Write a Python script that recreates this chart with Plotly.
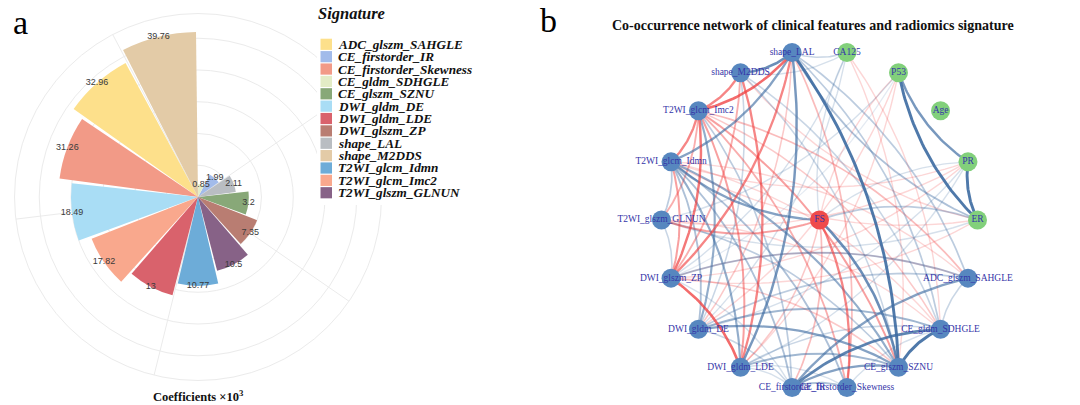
import numpy as np
import plotly.graph_objects as go

W, H = 1080, 405

# ---------------- Panel a data ----------------
signature = ["ADC_glszm_SAHGLE", "CE_firstorder_IR", "CE_firstorder_Skewness", "CE_gldm_SDHGLE",
             "CE_glszm_SZNU", "DWI_gldm_DE", "DWI_gldm_LDE", "DWI_glszm_ZP", "shape_LAL",
             "shape_M2DDS", "T2WI_glcm_Idmn", "T2WI_glcm_Imc2", "T2WI_glszm_GLNUN"]
coefficients = [32.96, 1.99, 31.26, 0.85, 3.2, 18.49, 13, 7.35, 2.11, 39.76, 10.77, 17.82, 10.5]
sig_colors = ["#FDE08B", "#A2BBEA", "#F29A87", "#E3ECC6", "#88A878", "#A9DDF5", "#D9626C",
              "#B97D72", "#B9BDC2", "#E3CBA7", "#6DACD8", "#F9A88D", "#876287"]
angular_breaks = [2.5, 5, 7.5, 10, 12.5]
radial_breaks = [2.5, 5, 7.5, 10, 12.5]

# ---------------- Panel b data ----------------
node_labels = ["ER", "PR", "Age", "P53", "CA125", "shape_LAL", "shape_M2DDS", "T2WI_glcm_Imc2",
               "T2WI_glcm_Idmn", "T2WI_glszm_GLNUN", "DWI_glszm_ZP", "DWI_gldm_DE", "DWI_gldm_LDE",
               "CE_firstorder_IR", "CE_firstorder_Skewness", "CE_glszm_SZNU", "CE_gldm_SDHGLE",
               "ADC_glszm_SAHGLE"]
center_node = "FS"
clinical_nodes = ["ER", "PR", "Age", "P53", "CA125"]

edges = [
    # positive (red)
    ("shape_LAL", "T2WI_glcm_Imc2", 0.7),
    ("shape_M2DDS", "T2WI_glcm_Imc2", 0.6),
    ("T2WI_glcm_Imc2", "T2WI_glcm_Idmn", 0.6),
    ("T2WI_glcm_Imc2", "DWI_glszm_ZP", 0.65),
    ("DWI_glszm_ZP", "DWI_gldm_LDE", 0.7),
    ("shape_LAL", "DWI_glszm_ZP", 0.6),
    ("shape_M2DDS", "DWI_gldm_LDE", 0.6),
    ("T2WI_glcm_Imc2", "CE_glszm_SZNU", 0.5),
    ("FS", "CE_firstorder_Skewness", 0.6),
    ("FS", "T2WI_glszm_GLNUN", 0.5),
    ("T2WI_glcm_Idmn", "DWI_glszm_ZP", 0.5),
    ("shape_M2DDS", "DWI_glszm_ZP", 0.45),
    ("T2WI_glcm_Imc2", "DWI_gldm_LDE", 0.5),
    ("T2WI_glcm_Imc2", "CE_firstorder_Skewness", 0.45),
    ("T2WI_glcm_Imc2", "CE_gldm_SDHGLE", 0.35),
    ("T2WI_glcm_Imc2", "ADC_glszm_SAHGLE", 0.4),
    ("T2WI_glcm_Idmn", "ADC_glszm_SAHGLE", 0.3),
    ("T2WI_glcm_Idmn", "CE_gldm_SDHGLE", 0.3),
    ("DWI_glszm_ZP", "ADC_glszm_SAHGLE", 0.3),
    ("DWI_glszm_ZP", "ER", 0.3),
    ("DWI_gldm_LDE", "FS", 0.35),
    ("FS", "CE_firstorder_IR", 0.4),
    ("CA125", "CE_gldm_SDHGLE", 0.3),
    ("CA125", "CE_glszm_SZNU", 0.3),
    ("P53", "DWI_gldm_DE", 0.3),
    ("P53", "FS", 0.3),
    ("P53", "DWI_gldm_LDE", 0.3),
    ("PR", "T2WI_glcm_Idmn", 0.3),
    ("PR", "T2WI_glszm_GLNUN", 0.3),
    ("PR", "DWI_glszm_ZP", 0.3),
    ("ER", "T2WI_glcm_Idmn", 0.3),
    ("T2WI_glszm_GLNUN", "CE_gldm_SDHGLE", 0.3),
    ("shape_LAL", "CE_firstorder_Skewness", 0.4),
    ("shape_M2DDS", "ER", 0.3),
    ("T2WI_glszm_GLNUN", "T2WI_glcm_Imc2", 0.45),
    ("DWI_gldm_DE", "shape_LAL", 0.35),
    ("DWI_glszm_ZP", "CE_glszm_SZNU", 0.35),
    # negative (blue)
    ("shape_LAL", "shape_M2DDS", -0.7),
    ("CE_glszm_SZNU", "shape_LAL", -0.8),
    ("P53", "ER", -0.8),
    ("PR", "ER", -0.8),
    ("P53", "PR", -0.65),
    ("CE_glszm_SZNU", "CE_gldm_SDHGLE", -0.8),
    ("CE_firstorder_IR", "CE_gldm_SDHGLE", -0.75),
    ("CE_firstorder_IR", "ADC_glszm_SAHGLE", -0.6),
    ("CE_firstorder_IR", "CE_glszm_SZNU", -0.6),
    ("FS", "CE_glszm_SZNU", -0.7),
    ("T2WI_glcm_Idmn", "FS", -0.6),
    ("shape_LAL", "DWI_gldm_LDE", -0.65),
    ("T2WI_glcm_Idmn", "shape_LAL", -0.6),
    ("DWI_gldm_DE", "CE_glszm_SZNU", -0.6),
    ("DWI_gldm_DE", "CE_gldm_SDHGLE", -0.5),
    ("T2WI_glcm_Idmn", "DWI_gldm_LDE", -0.55),
    ("T2WI_glcm_Imc2", "DWI_gldm_DE", -0.55),
    ("T2WI_glcm_Idmn", "DWI_gldm_DE", -0.45),
    ("T2WI_glcm_Idmn", "CE_glszm_SZNU", -0.55),
    ("T2WI_glcm_Idmn", "CE_firstorder_Skewness", -0.45),
    ("T2WI_glcm_Idmn", "CE_firstorder_IR", -0.45),
    ("T2WI_glcm_Imc2", "CE_firstorder_IR", -0.4),
    ("DWI_gldm_LDE", "CE_glszm_SZNU", -0.5),
    ("T2WI_glszm_GLNUN", "CE_glszm_SZNU", -0.4),
    ("shape_LAL", "ER", -0.45),
    ("shape_LAL", "ADC_glszm_SAHGLE", -0.4),
    ("shape_LAL", "CE_gldm_SDHGLE", -0.4),
    ("shape_M2DDS", "CE_gldm_SDHGLE", -0.35),
    ("shape_M2DDS", "CE_glszm_SZNU", -0.35),
    ("shape_M2DDS", "DWI_gldm_DE", -0.35),
    ("CA125", "shape_LAL", -0.35),
    ("CA125", "DWI_glszm_ZP", -0.3),
    ("CA125", "DWI_gldm_DE", -0.3),
    ("CA125", "shape_M2DDS", -0.3),
    ("CA125", "FS", -0.3),
    ("P53", "T2WI_glszm_GLNUN", -0.3),
    ("P53", "DWI_glszm_ZP", -0.25),
    ("ER", "FS", -0.4),
    ("ER", "T2WI_glszm_GLNUN", -0.3),
    ("ADC_glszm_SAHGLE", "CE_gldm_SDHGLE", -0.35),
    ("ADC_glszm_SAHGLE", "DWI_glszm_ZP", -0.45),
    ("ADC_glszm_SAHGLE", "DWI_gldm_DE", -0.4),
    ("CE_firstorder_Skewness", "CE_gldm_SDHGLE", -0.3),
    ("CE_firstorder_Skewness", "DWI_gldm_LDE", -0.3),
    ("CE_firstorder_Skewness", "CE_firstorder_IR", -0.45),
    ("DWI_gldm_LDE", "CE_firstorder_IR", -0.3),
    ("DWI_gldm_DE", "CE_firstorder_IR", -0.35),
    ("DWI_glszm_ZP", "CE_firstorder_IR", -0.3),
    ("DWI_gldm_LDE", "CE_gldm_SDHGLE", -0.35),
    ("T2WI_glszm_GLNUN", "T2WI_glcm_Idmn", -0.4),
    ("PR", "DWI_gldm_DE", -0.3),
    ("PR", "DWI_gldm_LDE", -0.3),
    ("PR", "FS", -0.3),
    ("T2WI_glszm_GLNUN", "DWI_glszm_ZP", -0.35),
]
edge_from = [e[0] for e in edges]
edge_to = [e[1] for e in edges]
edge_corr = [e[2] for e in edges]

fig = go.Figure()

# ---------------- Panel a: polar bars ----------------
n = len(coefficients)
step = 360.0 / n
order = np.argsort(coefficients)
rank = np.empty(n, dtype=int)
rank[order] = np.arange(1, n + 1)
thetas = (rank - 0.5) * step
labels = [f"{v:g}" for v in coefficients]

fig.add_trace(go.Barpolar(
    r=rank, theta=thetas, width=[step * 0.95] * n,
    marker=dict(color=sig_colors, line=dict(width=0)),
    subplot="polar", showlegend=False, text=signature, hoverinfo="text"))
fig.add_trace(go.Scatterpolar(
    r=rank, theta=thetas, mode="text", text=labels,
    textfont=dict(family="Liberation Sans, Arial", size=9, color="#3a3a3a"),
    subplot="polar", showlegend=False, hoverinfo="skip"))

ang_ticks = [(b - 0.5) * step for b in angular_breaks]

cx, cy, R = 198, 197, 183.5
fig.update_layout(polar=dict(
    domain=dict(x=[(cx - R) / W, (cx + R) / W], y=[1 - (cy + R) / H, 1 - (cy - R) / H]),
    bgcolor="white",
    radialaxis=dict(range=[0, 14.45], tickvals=radial_breaks, showticklabels=False, ticks="",
                    showline=False, gridcolor="#EBEBEB", gridwidth=1),
    angularaxis=dict(rotation=90, direction="clockwise", tickvals=ang_ticks, showticklabels=False,
                     ticks="", showline=True, linecolor="#EBEBEB", linewidth=1,
                     gridcolor="#EBEBEB", gridwidth=1),
))

# ---------------- Panel b: network ----------------
pos = {}
for i, name in enumerate(node_labels):
    a = np.deg2rad(i * 360.0 / len(node_labels))
    pos[name] = (np.cos(a), np.sin(a))
pos[center_node] = (0.0, 0.0)
order_idx = {name: i for i, name in enumerate(node_labels)}
order_idx[center_node] = -1

def curve(p0, p1, k=0.16, m=40):
    (x0, y0), (x1, y1) = p0, p1
    dx, dy = x1 - x0, y1 - y0
    cxp = (x0 + x1) / 2 + k * dy
    cyp = (y0 + y1) / 2 - k * dx
    t = np.linspace(0, 1, m)
    xs = (1 - t) ** 2 * x0 + 2 * (1 - t) * t * cxp + t ** 2 * x1
    ys = (1 - t) ** 2 * y0 + 2 * (1 - t) * t * cyp + t ** 2 * y1
    return xs, ys

edge_order = np.argsort([abs(c) for c in edge_corr], kind="stable")
for j in edge_order:
    a, b, c = edge_from[j], edge_to[j], edge_corr[j]
    src, dst = (a, b) if order_idx[a] > order_idx[b] else (b, a)
    xs, ys = curve(pos[src], pos[dst])
    alpha = float(np.clip((abs(c) - 0.15) * 1.4, 0.12, 0.95))
    col = f"rgba(240,62,62,{alpha:.2f})" if c > 0 else f"rgba(62,108,162,{alpha:.2f})"
    fig.add_trace(go.Scatter(x=xs, y=ys, mode="lines", line=dict(color=col, width=0.5 + 3.0 * abs(c)),
                             xaxis="x", yaxis="y", showlegend=False, hoverinfo="skip"))

all_nodes = node_labels + [center_node]
node_col = []
for nm in all_nodes:
    if nm == center_node:
        node_col.append("#EF4B4B")
    elif nm in clinical_nodes:
        node_col.append("#82D07B")
    else:
        node_col.append("#5787BF")
fig.add_trace(go.Scatter(
    x=[pos[nm][0] for nm in all_nodes], y=[pos[nm][1] for nm in all_nodes],
    mode="markers+text", text=all_nodes, textposition="middle center",
    marker=dict(size=19, color=node_col, line=dict(width=0)),
    textfont=dict(family="Liberation Serif", size=9.5, color="#3535A8"),
    xaxis="x", yaxis="y", showlegend=False, hoverinfo="text", cliponaxis=False))

ncx, ncy, rx, ry = 819.5, 220, 158, 170
x0p, x1p = 600, 1040
y0p, y1p = 35, 405
fig.update_layout(
    xaxis=dict(domain=[x0p / W, x1p / W], range=[(x0p - ncx) / rx, (x1p - ncx) / rx], visible=False),
    yaxis=dict(domain=[1 - y1p / H, 1 - y0p / H], range=[-(y1p - ncy) / ry, (ncy - y0p) / ry], visible=False),
)

# ---------------- Texts, legend ----------------
shapes = [dict(type="rect", xref="paper", yref="paper", x0=317 / W, x1=485 / W,
               y0=1 - 205 / H, y1=1 - 36 / H, fillcolor="white", line=dict(width=0), layer="above")]
ann = []
ann.append(dict(x=316 / W, y=1 - 13 / H, xref="paper", yref="paper", xanchor="left", yanchor="middle",
                text="<b><i>Signature</i></b>", showarrow=False,
                font=dict(family="Liberation Serif", size=16.5, color="#111")))
for i, (nm, colr) in enumerate(zip(signature, sig_colors)):
    yc = 44.3 + 12.37 * i
    shapes.append(dict(type="rect", xref="paper", yref="paper", x0=320.5 / W, x1=332 / W,
                       y0=1 - (yc + 5.6) / H, y1=1 - (yc - 5.6) / H, fillcolor=colr,
                       line=dict(width=0), layer="above"))
    ann.append(dict(x=336 / W, y=1 - yc / H, xref="paper", yref="paper", xanchor="left", yanchor="middle",
                    text=f"<b><i>{nm}</i></b>", showarrow=False,
                    font=dict(family="Liberation Serif", size=13.2, color="#111")))
ann.append(dict(x=198 / W, y=1 - 396 / H, xref="paper", yref="paper", xanchor="center", yanchor="middle",
                text="<b>Coefficients ×10<sup>3</sup></b>", showarrow=False,
                font=dict(family="Liberation Serif", size=12.5, color="#111")))
ann.append(dict(x=20 / W, y=1 - 22 / H, xref="paper", yref="paper", xanchor="center", yanchor="middle",
                text="a", showarrow=False, font=dict(family="Liberation Serif", size=34, color="#000")))
ann.append(dict(x=548 / W, y=1 - 20 / H, xref="paper", yref="paper", xanchor="center", yanchor="middle",
                text="b", showarrow=False, font=dict(family="Liberation Serif", size=34, color="#000")))
ann.append(dict(x=813 / W, y=1 - 25 / H, xref="paper", yref="paper", xanchor="center", yanchor="middle",
                text="<b>Co-occurrence network of clinical features and radiomics signature</b>",
                showarrow=False, font=dict(family="Liberation Serif", size=14, color="#111")))

fig.update_layout(width=W, height=H, margin=dict(l=0, r=0, t=0, b=0),
                  paper_bgcolor="white", plot_bgcolor="white",
                  shapes=shapes, annotations=ann, showlegend=False)

fig.write_html("out.html", config={"displayModeBar": False},
               post_script="document.body.style.margin='0px';document.body.style.overflow='hidden';")
